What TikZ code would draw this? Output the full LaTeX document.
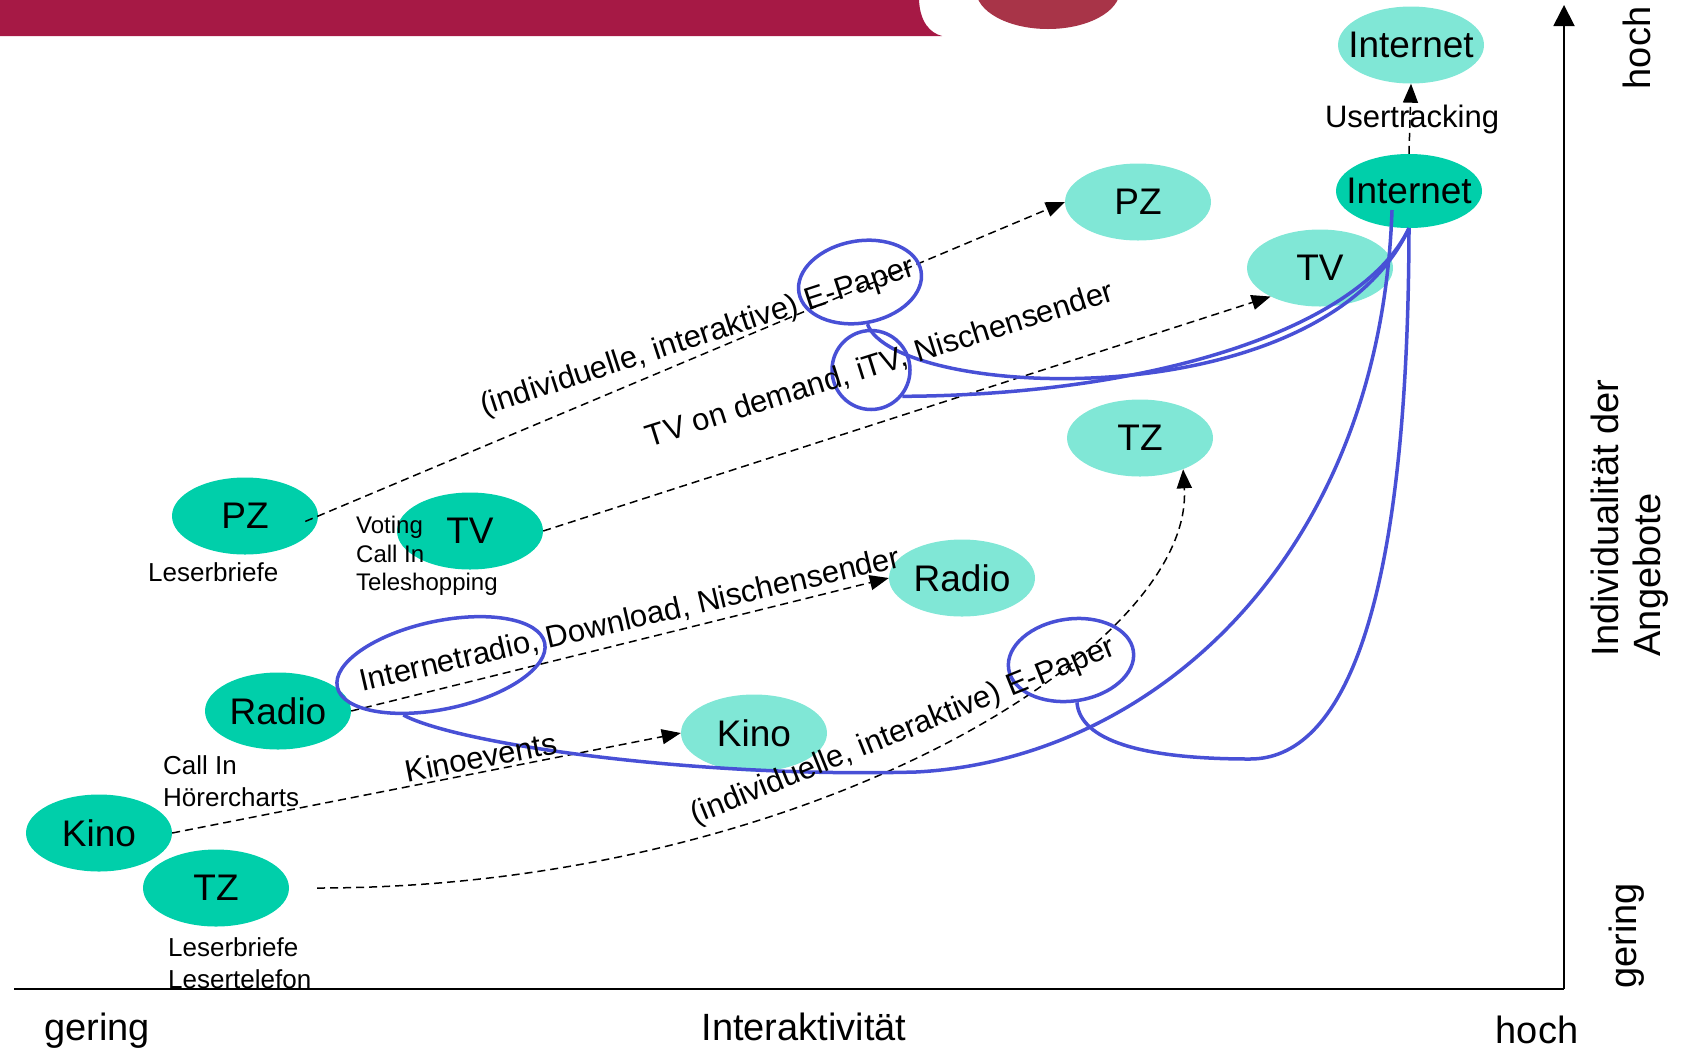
\documentclass[tikz,border=0pt]{standalone}
\usepackage{fontspec}
\setmainfont{Liberation Sans}
\usetikzlibrary{shapes.geometric,arrows.meta}
\definecolor{mediadark}{RGB}{0,207,170}
\definecolor{medialight}{RGB}{128,231,214}
\definecolor{linkblue}{RGB}{72,80,214}
\definecolor{barred}{RGB}{166,25,69}
\definecolor{dropred}{RGB}{168,52,72}

\begin{document}
\begin{tikzpicture}[x=1pt, y=-1pt,
  medium/.style={ellipse, minimum width=146pt, minimum height=77pt, inner ysep=0pt, inner xsep=-20pt, font=\fontsize{37}{40}\selectfont},
  oldmedium/.style={medium, fill=mediadark},
  newmedium/.style={medium, fill=medialight},
  flowarrow/.style={line width=1.5pt, dash pattern=on 8pt off 5pt, -{Triangle[length=19pt,width=15pt]}},
  bluelink/.style={draw=linkblue, line width=3.5pt},
  bluering/.style={ellipse, draw=linkblue, line width=3.5pt, inner sep=0pt},
  notetext/.style={font=\fontsize{26}{32}\selectfont, align=left, inner sep=0pt, anchor=west},
  pathlabel/.style={font=\fontsize{31}{36}\selectfont, inner sep=0pt},
  axislabel/.style={font=\fontsize{38}{42}\selectfont, inner sep=0pt}]

\useasboundingbox (0,0) rectangle (1685,1053);

\fill[barred] (0,0) -- (919,0) .. controls (920,22) and (930,33) .. (942,36) -- (0,36) -- cycle;
\fill[dropred] (1048,-10) ellipse [x radius=72, y radius=39];

\node[oldmedium] (pzL) at (245,516) {PZ};
\node[oldmedium] (tvL) at (470,531) {TV};
\node[oldmedium] (radioL) at (278,711) {Radio};
\node[oldmedium] (kinoL) at (99,833) {Kino};
\node[oldmedium] (tzL) at (216,888) {TZ};
\node[oldmedium, minimum height=74pt] (inetD) at (1409,191) {Internet};

\node[newmedium] (inetN) at (1411,45) {Internet};
\node[newmedium] (pzR) at (1138,202) {PZ};
\node[newmedium] (tvR) at (1320,268) {TV};
\node[newmedium] (tzR) at (1140,438) {TZ};
\node[newmedium] (radioR) at (962,578) {Radio};
\node[newmedium] (kinoR) at (754,733) {Kino};

\draw[flowarrow, shorten <=-14pt] (pzL.east) -- (pzR.west);
\draw[flowarrow] (tvL.east) -- (tvR.210);
\draw[flowarrow] (radioL.east) -- (radioR.west);
\draw[flowarrow] (kinoL.east) -- (kinoR.west);
\draw[flowarrow, shorten <=28pt] (tzL.east) .. controls (800,888) and (1195,650) .. (tzR.-36);
\draw[flowarrow] (inetD.north) -- (inetN.south);

\node[bluering, minimum width=124pt, minimum height=82pt, rotate=10] (ringPZ) at (860,282) {};
\node[bluering, minimum width=78pt, minimum height=79pt] (ringTV) at (871,370) {};
\node[bluering, minimum width=212pt, minimum height=88pt, rotate=12] (ringRadio) at (441,665) {};
\node[bluering, minimum width=126pt, minimum height=82pt, rotate=8] (ringTZ) at (1071,660) {};

\coordinate (tap) at (1392,210);
\draw[bluelink] (ringPZ.south) .. controls (895,400) and (1320,420) .. (inetD.south);
\draw[bluelink] (ringTV.-40) .. controls (1150,395) and (1360,330) .. (inetD.south);
\draw[bluelink] (tap) .. controls (1380,560) and (1150,760) .. (916,772) .. controls (700,778) and (460,745) .. (ringRadio.221);
\draw[bluelink] (inetD.south) .. controls (1408,620) and (1340,759) .. (1250,759) .. controls (1140,759) and (1080,740) .. (ringTZ.south);

\node[notetext] (pzNote) at (148,572) {Leserbriefe};
\node[notetext, font=\fontsize{24}{28.5}\selectfont] (tvNote) at (356,556) {Voting\\Call In\\Teleshopping};
\node[notetext] (radioNote) at (163,781) {Call In\\Hörercharts};
\node[notetext] (tzNote) at (168,963) {Leserbriefe\\Lesertelefon};
\node[pathlabel] (track) at (1412,119) {Usertracking};

\node[pathlabel, rotate=18] (lblPZ) at (698,338) {(individuelle, interaktive) E-Paper};
\node[pathlabel, rotate=17.5] (lblTV) at (880,365) {TV on demand, iTV, Nischensender};
\node[pathlabel, rotate=13] (lblRadio) at (630,620) {Internetradio, Download, Nischensender};
\node[pathlabel, rotate=11] (lblKino) at (481,757) {Kinoevents};
\node[pathlabel, rotate=22] (lblTZ) at (903,732) {(individuelle, interaktive) E-Paper};

\coordinate (origin) at (1564,989);
\coordinate (xend) at (14,989);
\coordinate (ytop) at (1564,5);
\draw[line width=1.8pt] (xend) -- (origin);
\draw[line width=1.8pt, -{Triangle[length=21pt,width=21pt]}] (origin) -- (ytop);

\node[axislabel] (xlow) at (97,1031) {gering};
\node[axislabel] (xname) at (804,1027) {Interaktivität};
\node[axislabel] (xhigh) at (1537,1030) {hoch};
\node[axislabel, rotate=90] (yhigh) at (1637,48) {hoch};
\node[axislabel, rotate=90, align=left] (yname) at (1630,518) {Individualität der\\Angebote};
\node[axislabel, rotate=90] (ylow) at (1627,936) {gering};

\end{tikzpicture}
\end{document}
